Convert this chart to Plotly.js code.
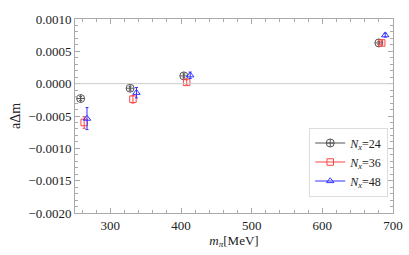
<!DOCTYPE html>
<html><head><meta charset="utf-8">
<script src="https://cdn.plot.ly/plotly-3.0.1.min.js"></script>
<style>html,body{margin:0;padding:0;background:#fff}</style>
</head><body><div id="c" style="width:409px;height:255px"></div>
<script>
const seriesNames = ["<i>N<sub>x</sub></i>=24","<i>N<sub>x</sub></i>=36","<i>N<sub>x</sub></i>=48"];
const mpi24 = [258, 328, 404, 680];
const dm24  = [-0.00023, -0.00007, 0.00012, 0.00063];
const err24 = [0.00003, 0.00003, 0.00003, 0.00002];
const mpi36 = [263, 332, 408, 684];
const dm36  = [-0.00060, -0.00024, 0.00002, 0.00063];
const err36 = [0.00009, 0.00006, 0.00004, 0.00003];
const mpi48 = [267, 337, 413, 689];
const dm48  = [-0.00054, -0.00014, 0.00013, 0.00075];
const err48 = [0.00017, 0.00008, 0.00005, 0.00003];
const colors = ["#555555","#ff4444","#3333ff"];
const symbols = ["circle-cross-open","square-open","triangle-up-open"];
const sets = [[mpi24,dm24,err24],[mpi36,dm36,err36],[mpi48,dm48,err48]];

function gap(a){const o=[];a.forEach((v,i)=>{if(i)o.push(null);o.push(v);});return o;}

const traces = sets.map((s,i)=>({
  x: gap(s[0]), y: gap(s[1]),
  error_y:{type:'data', array: gap(s[2]), color: colors[i], thickness:1, width:1.5},
  mode:'lines+markers', connectgaps:false,
  line:{color:colors[i], width:1},
  marker:{symbol:symbols[i], color:colors[i], size: i===0?8:6.5, line:{width:1, color:colors[i]}},
  name: seriesNames[i], showlegend:true
}));

const axBase = {
  showgrid:false, zeroline:false, showline:true, linecolor:'#aaaaaa', linewidth:1, mirror:'ticks',
  ticks:'inside', ticklen:5, tickcolor:'#aaaaaa', tickwidth:1,
  tickfont:{family:'Liberation Serif', size:13, color:'#222'}
};
const layout = {
  width:409, height:255,
  margin:{l:75, r:16, t:19, b:42},
  paper_bgcolor:'#fff', plot_bgcolor:'#fff',
  font:{family:'Liberation Serif', color:'#222'},
  xaxis: Object.assign({}, axBase, {
    range:[250,700], dtick:100, tick0:300,
    minor:{dtick:20, ticklen:3, tickcolor:'#aaaaaa', ticks:'inside'},
    title:{text:'<i>m<sub>π</sub></i>[MeV]', font:{family:'Liberation Serif', size:13, color:'#222'}, standoff:2}
  }),
  yaxis: Object.assign({}, axBase, {
    range:[-0.0020,0.0010], dtick:0.0005, tickformat:'.4f',
    minor:{dtick:0.0001, ticklen:3, tickcolor:'#aaaaaa', ticks:'inside'},
    title:{text:'aΔm', font:{family:'Liberation Serif', size:14, color:'#222'}, standoff:4}
  }),
  shapes:[{type:'line', xref:'paper', x0:0, x1:1, yref:'y', y0:0, y1:0, line:{color:'#cccccc', width:1}}],
  legend:{x:0.985, y:0.085, xanchor:'right', yanchor:'bottom', bgcolor:'#fff', bordercolor:'#dddddd', borderwidth:1,
    font:{family:'Liberation Serif', size:12, color:'#222'}, tracegroupgap:0, itemwidth:30}
};
Plotly.newPlot('c', traces, layout, {displayModeBar:false, staticPlot:true});
</script></body></html>
